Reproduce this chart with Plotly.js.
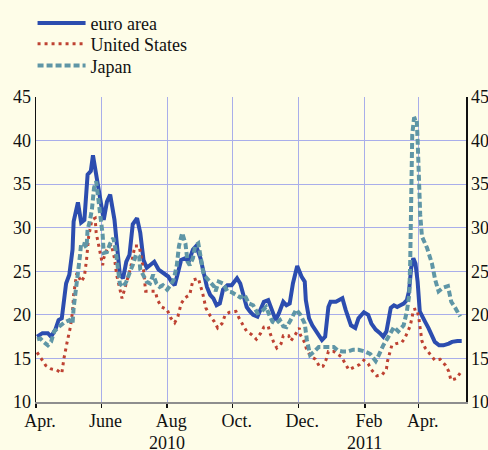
<!DOCTYPE html>
<html><head><meta charset="utf-8">
<script src="https://cdn.plot.ly/plotly-3.0.1.min.js"></script>
<style>html,body{margin:0;padding:0;background:#FEFDE8;} #chart{width:488px;height:450px;}</style>
</head><body><div id="chart"></div>
<script>
// Days since 2010-04-01
const euroDays = [1,6,11,14,18,21,24,28,31,34,35,39,42,45,48,51,53,56,60,63,66,69,73,76,78,81,84,87,90,94,97,100,103,106,110,114,118,123,126,129,132,135,139,142,146,149,153,156,159,162,165,168,171,174,178,182,187,190,193,196,199,202,206,209,212,216,219,223,226,230,233,236,239,243,247,250,251,254,257,262,266,269,272,274,279,282,285,288,293,297,300,305,309,312,316,320,323,326,330,333,336,339,342,345,347,349,351,353,355,357,359,362,365,368,371,375,379,384,387,392,396];
const euroValues = [17.5,17.9,17.9,17.5,18.3,19.4,19.6,23.6,24.6,27.5,30.7,32.9,30.6,30.9,36.1,36.5,38.3,35.9,33.2,30.9,33.0,33.8,30.9,26.5,24.6,24.2,26.1,26.9,30.4,31.1,29.4,26.3,25.4,25.7,26.1,25.2,24.8,24.4,23.8,23.4,24.8,26.3,26.5,26.1,27.5,27.9,26.5,25.0,23.2,22.3,21.9,21.1,21.3,22.9,23.4,23.4,24.2,23.6,22.1,20.9,20.4,20.0,19.8,20.6,21.5,21.7,20.8,19.4,20.2,21.5,21.1,21.3,23.6,25.6,24.4,23.8,21.7,19.6,18.8,17.9,17.1,17.5,20.9,21.5,21.5,21.7,21.9,20.6,18.8,18.5,19.6,20.3,20.0,19.0,18.3,17.9,17.5,18.1,20.8,21.1,20.9,21.1,21.3,21.7,22.7,25.4,26.5,25.9,23.8,20.4,19.8,19.2,18.5,17.7,16.9,16.5,16.5,16.7,16.9,17.0,17.0];

const usDays = [1,5,9,14,19,24,26,29,32,34,35,37,38,42,45,47,49,52,55,56,59,62,63,66,70,73,75,78,80,83,88,92,96,100,102,106,111,113,117,122,125,129,132,135,139,143,146,151,153,155,158,162,166,169,173,176,180,186,189,193,196,201,205,209,212,216,218,221,224,228,230,235,237,241,245,246,250,252,256,260,264,267,270,272,277,284,288,291,296,301,305,309,312,317,322,326,327,329,331,335,340,343,345,348,350,351,354,356,357,358,359,362,366,371,376,381,384,386,391,395];
const usValues = [15.7,15.0,14.2,13.8,13.7,13.3,15.0,16.9,18.6,20.4,22.3,24.0,24.8,23.8,24.4,26.3,29.0,30.9,31.1,29.4,27.5,25.7,26.5,27.5,28.1,26.5,24.6,22.9,21.9,23.2,25.4,27.9,27.9,25.2,22.7,22.7,22.7,21.7,20.9,20.6,19.7,19.1,19.8,21.3,22.0,22.3,24.0,24.2,23.3,22.5,20.8,19.9,19.2,18.5,19.0,20.0,20.3,20.4,19.6,18.8,18.1,17.7,17.2,17.9,18.6,18.7,17.8,16.9,16.2,16.7,17.6,17.6,17.0,17.7,18.5,17.7,16.8,15.9,15.2,14.9,14.0,14.1,14.9,15.8,15.8,15.2,14.3,13.7,14.0,14.3,14.8,14.4,13.7,13.0,13.1,13.8,14.7,15.6,16.5,16.7,16.8,17.3,17.9,18.7,19.8,20.6,20.7,19.8,18.8,17.9,17.0,16.2,15.6,14.8,14.9,14.2,13.5,12.5,12.7,13.4];

const japanDays = [1,4,7,11,14,17,21,26,31,34,35,37,39,41,42,45,47,48,50,52,54,56,58,60,62,63,66,69,72,74,76,78,81,84,87,90,93,96,97,100,103,106,109,112,115,118,122,125,128,131,133,136,139,141,143,146,148,151,153,156,159,162,166,167,170,174,178,182,187,190,194,198,202,206,210,214,217,220,223,227,230,233,236,239,242,246,250,252,255,259,263,267,271,274,277,281,285,290,295,300,306,311,316,319,323,327,333,337,342,345,347.2,348.1,348.8,349.4,350,351.6,354.1,355,356.2,357.4,359,363.7,368.3,371.4,374.5,378.3,383.2,386.3,390,394.6];
const japanValues = [17.2,17.3,16.9,16.5,16.9,18.1,18.6,19.1,19.4,19.0,20.8,22.5,24.8,26.9,28.2,28.1,27.7,29.8,30.7,32.1,34.6,35.3,33.4,31.3,29.2,27.1,27.2,28.2,28.8,27.5,25.6,23.6,23.2,23.8,24.8,25.7,26.9,26.7,25.2,24.6,23.8,23.6,24.6,23.6,23.2,23.4,22.9,23.4,24.0,25.7,27.9,29.4,28.2,26.1,25.7,26.5,27.9,28.2,26.7,24.6,24.2,23.8,23.2,22.7,23.8,23.6,22.7,22.6,22.3,22.0,22.3,21.3,21.1,20.2,20.4,20.9,20.0,19.2,19.0,19.4,18.7,18.6,19.2,20.0,20.6,20.0,19.0,17.1,15.4,15.8,16.3,16.3,16.3,16.4,16.3,15.9,15.8,15.8,16.0,16.0,15.8,15.5,14.7,15.4,16.5,17.3,18.6,18.1,18.8,20.4,22.3,26.1,31.5,36.5,40.7,42.5,42.6,40.0,35.3,31.5,29.0,27.7,25.9,24.0,22.7,23.1,23.3,21.5,20.8,19.8];

const seriesNames = ['euro area','United States','Japan'];
const monthTickDates = ['2010-04-01','2010-06-01','2010-08-01','2010-10-01','2010-12-01','2011-02-01','2011-03-23'];
const monthTickLabels = ['Apr.','June','Aug','Oct.','Dec.','Feb','Apr.'];
const yearLabels = ['2010','2011'];
const yearLabelDates = ['2010-08-01','2011-02-01'];
const yTicks = [10,15,20,25,30,35,40,45];

const base = Date.UTC(2010,3,1);
const toDate = d => new Date(base + d*86400000).toISOString().slice(0,19).replace('T',' ');

const bg = '#FEFDE8';
const gridColor = '#A9AEEA';
const fam = 'Liberation Serif';
const font = {family:fam, size:18, color:'#111'};

const traces = [
  {x: euroDays.map(toDate), y: euroValues, name: seriesNames[0], mode:'lines', legend:'legend',
   line:{color:'#2C4DAF', width:4}},
  {x: usDays.map(toDate), y: usValues, name: seriesNames[1], mode:'lines', legend:'legend2',
   line:{color:'#BE4232', width:3, dash:'3px,4px'}},
  {x: japanDays.map(toDate), y: japanValues, name: seriesNames[2], mode:'lines', yaxis:'y2', legend:'legend3',
   line:{color:'#5F96A6', width:4, dash:'6px,3px'}}
];

const legendBase = {x:-0.008, xanchor:'left', yanchor:'middle', bgcolor:'rgba(0,0,0,0)',
                    font:font, itemwidth:48};
const layout = {
  width:488, height:450,
  margin:{l:36, r:22, t:97, b:48, autoexpand:false},
  paper_bgcolor:bg, plot_bgcolor:bg,
  font: font,
  showlegend:true,
  legend:Object.assign({}, legendBase, {y:1.242}),
  legend2:Object.assign({}, legendBase, {y:1.174}),
  legend3:Object.assign({}, legendBase, {y:1.102}),
  xaxis:{type:'date', range:[toDate(0), toDate(400)], tickvals:monthTickDates, ticktext:monthTickLabels,
         showgrid:true, gridcolor:gridColor, gridwidth:1,
         showline:true, linecolor:'#8E8E8E', linewidth:2,
         ticks:'outside', ticklen:4, tickwidth:1.5, tickcolor:'#111',
         ticklabelshift:4, ticklabelstandoff:-3, tickfont:font, zeroline:false, fixedrange:true},
  yaxis:{range:[10,45], tickvals:yTicks, showgrid:true, gridcolor:gridColor, gridwidth:1,
         showline:true, linecolor:'#111', linewidth:1.5, ticks:'', tickfont:font,
         zeroline:false, fixedrange:true},
  yaxis2:{range:[10,45], tickvals:yTicks, overlaying:'y', side:'right', anchor:'x',
          showgrid:false, showline:true, linecolor:'#111', linewidth:1.5, ticks:'',
          tickfont:font, zeroline:false, fixedrange:true},
  annotations: yearLabels.map((t,i)=>({text:t, x:yearLabelDates[i], xref:'x', y:-0.134, yref:'paper',
      yanchor:'middle', xanchor:'center', showarrow:false, font:font}))
};

Plotly.newPlot('chart', traces, layout, {displayModeBar:false, staticPlot:true});
</script>
</body></html>
